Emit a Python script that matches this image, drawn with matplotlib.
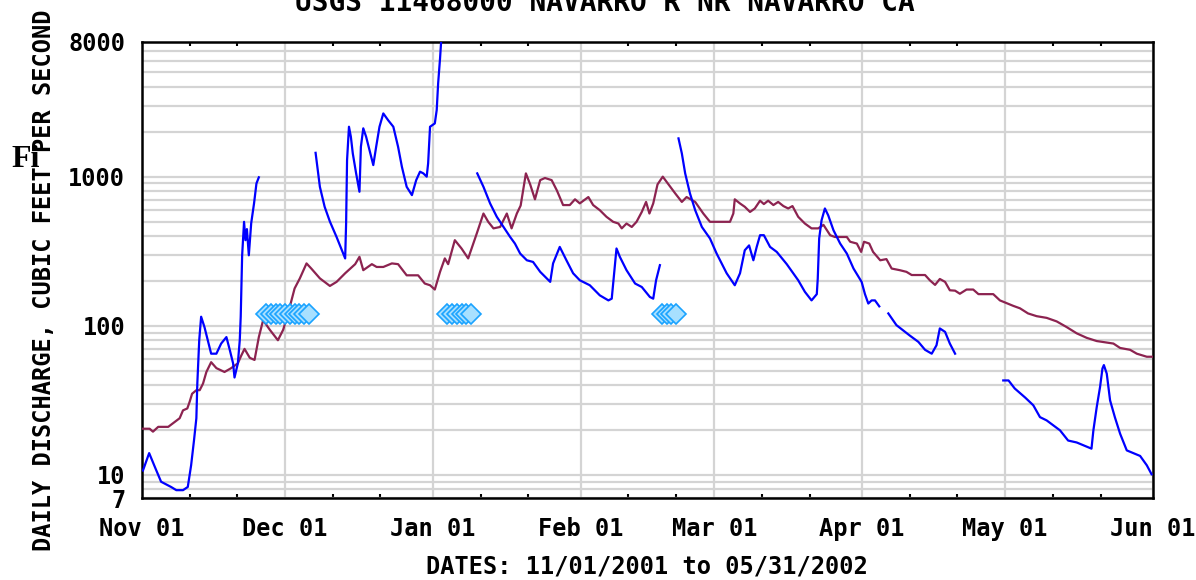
import datetime
import numpy as np
import matplotlib
matplotlib.use('Agg')
import matplotlib.pyplot as plt
import matplotlib.dates as mdates
from matplotlib.ticker import FixedLocator, LogLocator, NullFormatter

nan = float('nan')

# days since 2001-11-01 and daily discharge (cfs); nan = gap in record
daily_day = [0.2, 1.5, 2.7, 4.0, 6.1, 7.2, 8.6, 9.6, 10.3, 10.9, 11.4, 11.6, 12.0, 12.4, 13.1, 13.8,
             14.5, 15.6, 16.6, 17.7, 18.4, 19.1, 19.4, 20.1, 20.5, 20.7, 21.0, 21.4, 21.7, 22.0, 22.4,
             22.9, 23.5, 24.0, 24.5, 25.0,
             36.4, 37.3, 38.3, 39.4, 40.8, 42.6, 42.8, 43.0, 43.4, 43.8, 44.2, 44.9, 45.6, 45.9, 46.4,
             47.0, 47.7, 48.5, 49.1, 49.8, 50.6, 51.6, 52.7, 53.7, 54.5, 55.5, 56.6, 57.5, 58.3, 59.0,
             59.7, 60.0, 60.4, 61.4, 61.8, 62.1, 62.5, 63.0, 63.5,
             70.3, 71.6, 73.0, 74.4, 75.8, 77.2, 78.2, 79.3, 80.7, 82.0, 83.5, 85.6, 86.2, 87.6, 89.0,
             90.4, 91.8, 93.9, 96.0, 97.8, 98.5, 99.2, 99.5, 100.2, 101.6, 103.4, 104.8, 106.5, 107.2,
             107.8, 108.6, 109.0,
             112.5, 113.2, 113.9, 114.9, 116.0, 117.4, 119.1, 120.5, 122.6, 124.3, 125.4, 126.4, 127.3,
             128.2, 128.9, 129.6, 130.4, 131.7, 133.1, 135.2, 137.6, 139.0, 140.4, 141.5, 141.7, 142.0,
             142.5, 143.2, 143.9, 145.0, 146.4, 147.8, 149.2, 150.9, 151.6, 152.3, 153.0, 153.7, 154.6,
             155.0,
             156.5, 158.2, 161.0, 162.8, 164.2, 165.6, 166.6, 167.3, 168.4, 169.4, 170.5, 171.0,
             180.6, 181.7, 183.0, 185.2, 186.9, 188.3, 189.7, 191.1, 192.5, 194.2, 196.0, 197.4, 199.1,
             199.5, 200.2, 200.9, 201.4, 201.7, 202.3, 203.0, 204.0, 205.1, 206.5, 207.9, 209.3, 210.7,
             211.7]
daily_cfs = [10.7, 14, 11.3, 9.0, 8.3, 7.9, 7.9, 8.3, 11.6, 17, 24, 41, 80, 115, 98, 80,
             65, 65, 76, 84, 69, 56, 45, 56, 80, 115, 297, 498, 375, 445, 297,
             488, 664, 901, 990, nan,
             1445, 855, 628, 500, 394, 283, 485, 1291, 2162, 1850, 1432, 1052, 792, 1585, 2110,
             1850, 1507, 1196, 1585, 2162, 2655, 2394, 2162, 1585, 1164, 855, 752, 948, 1080, 1052,
             1000, 1228, 2162, 2275, 2800, 4230, 6220, 11000, nan,
             1052, 855, 661, 538, 460, 394, 356, 305, 275, 268, 230, 197, 262, 338, 275,
             225, 202, 187, 160, 148, 152, 262, 330, 290, 236, 192, 182, 156, 152,
             202, 255, nan,
             1806, 1432, 1052, 773, 596, 460, 385, 305, 225, 187, 225, 321, 346,
             275, 338, 405, 405, 338, 313, 259, 202, 169, 148, 163, 207, 385,
             510, 612, 550, 437, 356, 305, 242, 197, 163, 141, 148, 148, 135,
             nan,
             121, 101, 86, 78, 69, 65, 74, 96, 91, 76, 65, nan,
             43, 43, 38, 33, 29.3, 24.4, 23.2, 21.5, 19.9, 17, 16.5, 15.8, 15,
             19.9, 28.5, 38.9, 51.7, 54.5, 47.8, 31.6, 24.4, 18.9, 14.6, 14, 13.4, 11.6,
             10.1]

median_day = [0.2, 1.6, 2.3, 3.4, 5.5, 6.9, 7.9, 8.6, 9.5, 10.0, 10.5, 11.4, 12.1, 12.8, 13.5, 14.5,
              15.6, 17.3, 18.7, 20.1, 20.8, 21.5, 22.6, 23.6, 24.5, 25.4, 26.8, 28.5, 29.6, 30.6, 32.0,
              33.1, 34.5, 35.5, 37.3, 39.4, 40.8, 42.6, 44.7, 45.6, 46.4, 48.2, 49.2, 50.6, 52.4, 53.7,
              55.5, 57.9, 59.3, 60.4, 61.4, 62.5, 63.5, 64.2, 65.6, 67.0, 68.4, 70.2, 71.6, 72.6, 73.7,
              75.1, 76.5, 77.5, 78.6, 79.4, 80.5, 81.4, 82.4, 83.5, 84.5, 85.9, 87.0, 88.3, 89.7, 90.8,
              91.8, 93.6, 94.6, 96.0, 97.4, 98.8, 99.9, 100.6, 101.6, 102.7, 103.7, 104.8, 105.7, 106.4,
              107.2, 108.1, 109.2, 110.4, 111.8, 113.2, 114.2, 116.0, 117.7, 119.1, 123.3, 124.0, 124.3,
              125.4, 126.4, 127.5, 128.5, 129.6, 130.4, 131.3, 132.4, 133.4, 134.5, 135.5, 136.4, 137.6,
              139.0, 140.4, 141.8, 142.9, 144.3, 145.3, 147.8, 148.5, 149.9, 150.8, 151.4, 152.5, 153.3,
              154.8, 156.1, 157.2, 158.9, 160.3, 161.4, 164.2, 165.2, 166.3, 167.3, 168.4, 169.4, 170.5,
              171.5, 172.9, 174.3, 175.4, 178.5, 179.9, 181.3, 182.7, 184.1, 185.8, 187.6, 189.7, 191.8,
              193.9, 196.0, 198.1, 200.2, 203.7, 205.1, 207.2, 208.6, 210.7, 212.0]
median_cfs = [20.4, 20.4, 19.5, 21, 21, 22.7, 24, 27.1, 27.9, 31, 35, 37, 37, 41, 49, 57,
              52, 49, 52, 56, 63, 70, 61, 59, 84, 109, 94, 80, 94, 120, 178,
              208, 262, 242, 208, 185, 197, 225, 259, 290, 236, 259, 248, 248, 262, 259,
              218, 218, 192, 187, 175, 230, 283, 259, 375, 330, 283, 416, 566, 498, 450,
              460, 566, 450, 566, 640, 1052, 887, 705, 948, 980, 948, 808, 645, 645, 705,
              662, 730, 645, 596, 538, 498, 485, 450, 485, 460, 498, 580, 677, 566,
              661, 887, 1000, 887, 773, 677, 730, 677, 566, 498, 498, 566, 705,
              661, 628, 580, 612, 690, 655, 690, 645, 677, 635, 612, 635, 538,
              485, 450, 450, 475, 405, 394, 394, 366, 356, 313, 366, 356, 313,
              275, 280, 242, 236, 230, 219, 219, 202, 188, 206, 197, 173, 172,
              164, 175, 175, 163, 163, 148, 142, 136, 131, 121, 116, 113, 107,
              98, 89, 83, 79, 76, 71, 69, 65, 62, 62]

# days flagged with the diamond symbol, drawn at a fixed level
flag_day = [26, 27, 28, 29, 30, 31, 32, 33, 34, 35, 64, 65, 66, 67, 68, 69, 109, 110, 111, 112]
flag_level = 120

y_ticks = [7, 10, 100, 1000, 8000]
y_labels = ['7', '10', '100', '1000', '8000']

start = mdates.date2num(datetime.date(2001, 11, 1))
end = mdates.date2num(datetime.date(2002, 6, 1))

mono = 'DejaVu Sans Mono'

fig = plt.figure(figsize=(11.96, 5.80), dpi=100)
ax = fig.add_axes([142 / 1196, 1 - 498 / 580, (1153 - 142) / 1196, (498 - 42) / 580])

ax.set_yscale('log')
ax.set_ylim(7, 8000)
ax.set_xlim(start, end)

ax.yaxis.set_major_locator(FixedLocator(y_ticks))
ax.set_yticklabels(y_labels)
ax.yaxis.set_minor_locator(LogLocator(base=10, subs=range(2, 10)))
ax.yaxis.set_minor_formatter(NullFormatter())

ax.xaxis.set_major_locator(mdates.MonthLocator())
ax.xaxis.set_major_formatter(mdates.DateFormatter('%b %d'))
ax.xaxis.set_minor_locator(mdates.DayLocator(bymonthday=[11, 21]))

ax.grid(True, which='both', axis='y', color='#d4d4d4', linewidth=1.6)
ax.grid(True, which='major', axis='x', color='#d4d4d4', linewidth=1.6)
ax.set_axisbelow(True)

ax.tick_params(axis='y', which='both', length=0, pad=12)
ax.tick_params(axis='x', which='major', length=0, pad=14)
ax.tick_params(axis='x', which='minor', direction='in', length=3, width=1.5,
               top=True, bottom=True)
for lab in ax.get_xticklabels() + ax.get_yticklabels():
    lab.set_fontfamily(mono)
    lab.set_fontweight('bold')
    lab.set_fontsize(17)

for s in ax.spines.values():
    s.set_linewidth(1.8)
    s.set_color('black')

x_daily = start + np.array(daily_day)
x_median = start + np.array(median_day)
x_flag = start + np.array(flag_day)

ax.plot(x_median, median_cfs, color='#8c2350', linewidth=1.6, zorder=3)
ax.plot(x_daily, daily_cfs, color='#0000ff', linewidth=1.6, zorder=4)
ax.plot(x_flag, [flag_level] * len(flag_day), linestyle='none', marker='D', markersize=10,
        markerfacecolor='#a8e0ff', markeredgecolor='#1aa3ff', markeredgewidth=1.2, zorder=5)

fig.text(11 / 1196, 1 - 167 / 580, 'Fi', family='Liberation Serif', fontweight='bold',
         fontsize=23, ha='left', va='baseline')
fig.text(44 / 1196, 1 - 280 / 580, 'DAILY DISCHARGE, CUBIC FEET PER SECOND', family=mono,
         fontweight='bold', fontsize=17, rotation=90, ha='center', va='center')
fig.text(647 / 1196, 1 - 573 / 580, 'DATES: 11/01/2001 to 05/31/2002', family=mono,
         fontweight='bold', fontsize=17, ha='center', va='baseline')
fig.text(605 / 1196, 1 - 11 / 580, 'USGS 11468000 NAVARRO R NR NAVARRO CA', family=mono,
         fontweight='bold', fontsize=20, ha='center', va='baseline')

fig.savefig('out.png', dpi=100)
